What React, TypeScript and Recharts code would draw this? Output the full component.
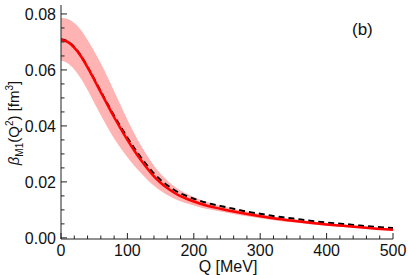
import { ComposedChart, Area, Line, XAxis, YAxis } from 'recharts'

const FONT = '"Liberation Sans", Arial, Helvetica, sans-serif'
const AXIS = '#222'

const qValues = [
  0, 10, 20, 30, 40, 50, 60, 70, 80, 90, 100, 110, 120, 130, 140, 150, 160, 170, 180, 190,
  200, 220, 240, 260, 280, 300, 325, 350, 375, 400, 425, 450, 475, 500,
]

// red curve (central value)
const betaCentral = [
  0.0708, 0.07, 0.068, 0.0649, 0.0609, 0.0565, 0.052, 0.0475, 0.0431, 0.039, 0.035, 0.0313,
  0.0279, 0.0248, 0.022, 0.0197, 0.0178, 0.0162, 0.0149, 0.0139, 0.013, 0.0115, 0.0104, 0.0094,
  0.0085, 0.0077, 0.0068, 0.0061, 0.0054, 0.0048, 0.0043, 0.0038, 0.0033, 0.0029,
]

// black dashed curve
const betaDashed = [
  0.071, 0.0702, 0.0682, 0.0651, 0.0611, 0.0568, 0.0523, 0.0479, 0.0436, 0.0397, 0.0358, 0.0322,
  0.0289, 0.0258, 0.023, 0.0207, 0.0188, 0.0172, 0.0159, 0.0149, 0.014, 0.0125, 0.0114, 0.0104,
  0.0094, 0.0086, 0.0076, 0.0069, 0.0061, 0.0055, 0.005, 0.0044, 0.0039, 0.0035,
]

// error band edges
const bandLow = [
  0.0634, 0.0624, 0.0602, 0.0569, 0.0528, 0.0483, 0.0438, 0.0395, 0.0355, 0.032, 0.0288, 0.0259,
  0.0233, 0.0208, 0.0186, 0.0168, 0.0153, 0.0141, 0.0131, 0.0123, 0.0116, 0.0103, 0.0094, 0.0085,
  0.0077, 0.007, 0.0061, 0.0055, 0.0049, 0.0043, 0.0039, 0.0034, 0.003, 0.0026,
]
const bandHigh = [
  0.0786, 0.0782, 0.0768, 0.0743, 0.0707, 0.0667, 0.0623, 0.0575, 0.0524, 0.0473, 0.0422, 0.0375,
  0.0332, 0.0293, 0.0258, 0.0229, 0.0205, 0.0185, 0.0169, 0.0157, 0.0146, 0.0128, 0.0115, 0.0104,
  0.0094, 0.0085, 0.0075, 0.0067, 0.006, 0.0053, 0.0048, 0.0042, 0.0037, 0.0032,
]

const xTicks = [
  0, 20, 40, 60, 80, 100, 120, 140, 160, 180, 200, 220, 240, 260, 280, 300, 320, 340, 360, 380,
  400, 420, 440, 460, 480, 500,
]
const xMajor = [0, 100, 200, 300, 400, 500]
const yTicks = [
  0, 0.005, 0.01, 0.015, 0.02, 0.025, 0.03, 0.035, 0.04, 0.045, 0.05, 0.055, 0.06, 0.065, 0.07,
  0.075, 0.08,
]
const yMajor = [0, 0.02, 0.04, 0.06, 0.08]

const data = qValues.map((q, i) => ({
  q,
  central: betaCentral[i],
  dashed: betaDashed[i],
  band: [bandLow[i], bandHigh[i]],
}))

const isMajor = (list: number[], v: number) => list.some((m) => Math.abs(m - v) < 1e-9)

function XTick(props: any) {
  const { x, y, payload, dir, label } = props
  const major = isMajor(xMajor, payload.value)
  const len = major ? 6 : 3.5
  return (
    <g>
      <line x1={x} x2={x} y1={y} y2={y + dir * len} stroke={AXIS} strokeWidth={1} />
      {label && major && (
        <text x={x} y={y + 16.5} textAnchor="middle" fontSize={16} fontFamily={FONT} fill="#111">
          {payload.value}
        </text>
      )}
    </g>
  )
}

function YTick(props: any) {
  const { x, y, payload, dir, label } = props
  const major = isMajor(yMajor, payload.value)
  const len = major ? 6 : 3.5
  return (
    <g>
      <line x1={x} x2={x + dir * len} y1={y} y2={y} stroke={AXIS} strokeWidth={1} />
      {label && major && (
        <text x={x - 5} y={y + 5.8} textAnchor="end" fontSize={16} fontFamily={FONT} fill="#111">
          {payload.value.toFixed(2)}
        </text>
      )}
    </g>
  )
}

function YTitle(props: any) {
  const { viewBox } = props
  const cx = 19
  const cy = viewBox.y + viewBox.height / 2 + 1
  return (
    <text
      x={cx}
      y={cy}
      transform={`rotate(-90, ${cx}, ${cy})`}
      textAnchor="middle"
      fontSize={15}
      fontFamily={FONT}
      fill="#111"
    >
      <tspan fontStyle="italic">β</tspan>
      <tspan fontSize={10} dy={4}>M1</tspan>
      <tspan dy={-4}>(Q</tspan>
      <tspan fontSize={10} dy={-6}>2</tspan>
      <tspan dy={6}>) [fm</tspan>
      <tspan fontSize={10} dy={-6}>3</tspan>
      <tspan dy={6}>]</tspan>
    </text>
  )
}

function XTitle(props: any) {
  const { viewBox } = props
  return (
    <text
      x={viewBox.x + viewBox.width / 2 + 1}
      y={272}
      textAnchor="middle"
      fontSize={16}
      fontFamily={FONT}
      fill="#111"
    >
      Q [MeV]
    </text>
  )
}

export default function App() {
  return (
    <div style={{ position: 'absolute', left: 0, top: 0, width: 408, height: 275, background: '#fff' }}>
      <ComposedChart width={408} height={275} data={data} margin={{ top: 5, right: 15, bottom: 6, left: 5 }}>
        <XAxis
          dataKey="q"
          type="number"
          domain={[0, 500]}
          ticks={xTicks}
          interval={0}
          allowDataOverflow
          height={30}
          tickSize={0}
          tickMargin={0}
          stroke={AXIS}
          tick={<XTick dir={-1} label />}
          label={{ content: <XTitle /> }}
        />
        <XAxis
          xAxisId="top"
          orientation="top"
          dataKey="q"
          type="number"
          domain={[0, 500]}
          ticks={xTicks}
          interval={0}
          allowDataOverflow
          height={0}
          tickSize={0}
          tickMargin={0}
          stroke={AXIS}
          tick={<XTick dir={1} label={false} />}
        />
        <YAxis
          type="number"
          domain={[-0.0004, 0.0832]}
          ticks={yTicks}
          interval={0}
          allowDataOverflow
          width={56}
          tickSize={0}
          tickMargin={0}
          stroke={AXIS}
          tick={<YTick dir={1} label />}
          label={{ content: <YTitle /> }}
        />
        <YAxis
          yAxisId="right"
          orientation="right"
          type="number"
          domain={[-0.0004, 0.0832]}
          ticks={yTicks}
          interval={0}
          allowDataOverflow
          width={0}
          tickSize={0}
          tickMargin={0}
          stroke={AXIS}
          tick={<YTick dir={-1} label={false} />}
        />
        <Area
          dataKey="band"
          type="monotone"
          stroke="none"
          fill="#ffb3b3"
          fillOpacity={1}
          isAnimationActive={false}
        />
        <Line
          dataKey="dashed"
          type="monotone"
          stroke="#000"
          strokeWidth={2}
          strokeDasharray="6 4"
          dot={false}
          isAnimationActive={false}
        />
        <Line
          dataKey="central"
          type="monotone"
          stroke="#ff0000"
          strokeWidth={2.5}
          dot={false}
          isAnimationActive={false}
        />
      </ComposedChart>
      <div
        style={{
          position: 'absolute',
          left: 352,
          top: 20,
          fontFamily: FONT,
          fontSize: 17,
          color: '#111',
          lineHeight: '20px',
        }}
      >
        (b)
      </div>
    </div>
  )
}
